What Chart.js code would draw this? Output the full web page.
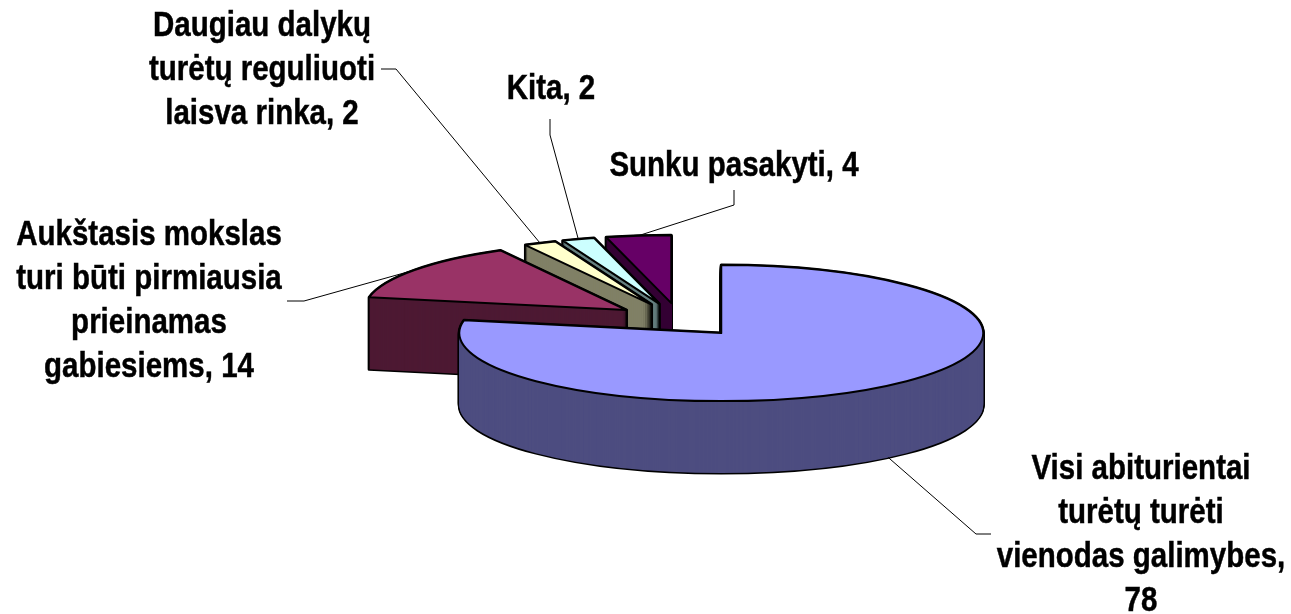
<!DOCTYPE html>
<html>
<head>
<meta charset="utf-8">
<style>html,body{margin:0;padding:0;background:#fff}canvas{display:block}</style>
<script src="https://cdn.jsdelivr.net/npm/chart.js@4/dist/chart.umd.min.js"></script>
</head>
<body>
<canvas id="c" width="1291" height="614" style="width:1291px;height:614px"></canvas>
<script>
const categories = [
  "Visi abiturientai turėtų turėti vienodas galimybes",
  "Aukštasis mokslas turi būti pirmiausia prieinamas gabiesiems",
  "Daugiau dalykų turėtų reguliuoti laisva rinka",
  "Kita",
  "Sunku pasakyti"
];
const values = [78, 14, 2, 2, 4];
const labelLines = [
  ["Visi abiturientai", "turėtų turėti", "vienodas galimybes,", "78"],
  ["Aukštasis mokslas", "turi būti pirmiausia", "prieinamas", "gabiesiems, 14"],
  ["Daugiau dalykų", "turėtų reguliuoti", "laisva rinka, 2"],
  ["Kita, 2"],
  ["Sunku pasakyti, 4"]
];
const topColors = ["#9999ff", "#993366", "#ffffcc", "#ccffff", "#660066"];
const wallColors = ["#4d4d80", "#4d1933", "#808066", "#668080", "#330033"];

const TILT = 0.2595, DEPTH = 72, EXPLODE = 65.5, FONT_PX = 29.5, FONT_YSCALE = 1.17, LINE_GAP = 44;
const DRAW_ORDER = [4, 3, 2, 1, 0];
// label layout: centre x, first baseline y, leader polyline start
const labelLayout = [
  {cx: 1141, y: 479, leader: [[991, 534], [976, 534]], front: true},
  {cx: 149,  y: 245, leader: [[287, 301], [304, 301]]},
  {cx: 262,  y: 36,  leader: [[381, 69], [396, 69]]},
  {cx: 551,  y: 99,  leader: [[550, 119], [550, 135]]},
  {cx: 734,  y: 176, leader: [[734, 190], [734, 205]]}
];

function slicePath(ctx, a, dy) {
  const mid = (a.startAngle + a.endAngle) / 2;
  const ox = a.x + Math.cos(mid) * a.options.offset;
  const oy = a.y + Math.sin(mid) * a.options.offset * TILT + dy;
  ctx.beginPath();
  ctx.moveTo(ox, oy);
  ctx.ellipse(ox, oy, a.outerRadius, a.outerRadius * TILT, 0, a.startAngle, a.endAngle);
  ctx.closePath();
}

const pie3d = {
  id: 'pie3d',
  beforeDatasetsDraw(chart) {
    const ctx = chart.ctx, arcs = chart.getDatasetMeta(0).data;
    ctx.save();
    ctx.lineJoin = 'round';
    DRAW_ORDER.forEach(i => {
      const a = arcs[i];
      ctx.strokeStyle = '#000';
      ctx.lineWidth = 3;
      for (let z = DEPTH; z >= 0; z--) { slicePath(ctx, a, z); ctx.stroke(); }
      ctx.fillStyle = wallColors[i];
      for (let z = DEPTH; z >= 0; z--) { slicePath(ctx, a, z); ctx.fill(); }
      slicePath(ctx, a, 0);
      ctx.fillStyle = a.options.backgroundColor;
      ctx.fill();
      ctx.lineWidth = 2;
      ctx.stroke();
    });
    ctx.restore();
    return false;
  },
  afterDraw(chart) {
    const ctx = chart.ctx, arcs = chart.getDatasetMeta(0).data;
    ctx.save();
    ctx.strokeStyle = '#000';
    ctx.lineWidth = 1;
    labelLayout.forEach((l, i) => {
      const a = arcs[i], mid = (a.startAngle + a.endAngle) / 2;
      const r = a.outerRadius + a.options.offset;
      const ex = a.x + Math.cos(mid) * r;
      const ey = a.y + Math.sin(mid) * r * TILT + (l.front ? DEPTH : 0);
      ctx.beginPath();
      ctx.moveTo(l.leader[0][0], l.leader[0][1]);
      ctx.lineTo(l.leader[1][0], l.leader[1][1]);
      ctx.lineTo(ex, ey);
      ctx.stroke();
    });
    ctx.fillStyle = '#000';
    ctx.lineWidth = 0.4;
    ctx.font = `bold ${FONT_PX}px "Liberation Sans", Arial, sans-serif`;
    ctx.textAlign = 'center';
    ctx.textBaseline = 'alphabetic';
    labelLayout.forEach((l, i) => {
      labelLines[i].forEach((t, j) => {
        ctx.save();
        ctx.translate(l.cx, l.y + j * LINE_GAP);
        ctx.scale(1, FONT_YSCALE);
        ctx.fillText(t, 0, 0);
        ctx.strokeText(t, 0, 0);
        ctx.restore();
      });
    });
    ctx.restore();
  }
};

new Chart(document.getElementById('c'), {
  type: 'pie',
  data: {
    labels: categories,
    datasets: [{data: values, backgroundColor: topColors, borderColor: '#000', borderWidth: 2, offset: EXPLODE}]
  },
  options: {
    responsive: false,
    animation: false,
    radius: 262,
    layout: {padding: {left: 68, top: 26, right: 0, bottom: 0}},
    plugins: {legend: {display: false}, tooltip: {enabled: false}, title: {display: false}}
  },
  plugins: [pie3d]
});
</script>
</body>
</html>
